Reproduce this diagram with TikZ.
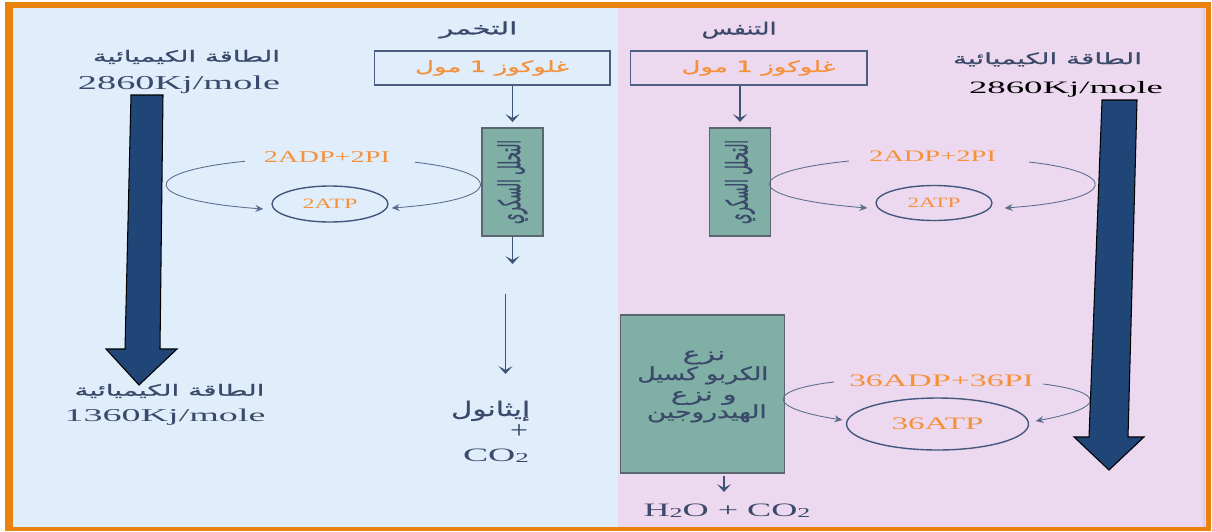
\documentclass[tikz,border=0pt]{standalone}
\usepackage{fontspec}
\usepackage{graphicx}
\setmainfont{Liberation Serif}
\newfontfamily\arabicfont[Script=Arabic,FakeBold=0.7]{DejaVu Sans}
\TeXXeTstate=1
\usetikzlibrary{arrows.meta,shapes.geometric,calc}
\newdimen\px \px=0.02cm
\newcommand\sw[2]{\resizebox{#1\px}{\height}{#2}}
\newcommand\AR[1]{{\arabicfont\beginR #1\endR}}
\newcommand\setfs[1]{\fontsize{#1}{#1}\selectfont}
\newcommand\subtwo{\raisebox{-0.06em}{\scalebox{0.72}{2}}}
\definecolor{bluebg}{HTML}{E0EEFC}
\definecolor{pinkbg}{HTML}{EDD9EF}
\definecolor{pinkedge}{HTML}{D9CCEA}
\definecolor{orangeframe}{HTML}{E9830E}
\definecolor{darktext}{HTML}{3B4A6A}
\definecolor{orangetxt}{HTML}{F5913A}
\definecolor{boxline}{HTML}{4E5E80}
\definecolor{grnfill}{HTML}{80AFA6}
\definecolor{grnline}{HTML}{5A6670}
\definecolor{ellline}{HTML}{44587E}
\definecolor{curveline}{HTML}{5B6E90}
\definecolor{arrline}{HTML}{3F5479}
\definecolor{bigblue}{HTML}{1F4677}
\begin{document}
\begin{tikzpicture}[x=0.02cm,y=-0.02cm,
  lbl/.style={inner sep=0pt, outer sep=0pt, anchor=base, text=darktext},
  otxt/.style={lbl, text=orangetxt},
  gbox/.style={draw=boxline, line width=0.6pt, minimum height=0.68cm, inner sep=0pt, text=orangetxt},
  grn/.style={draw=grnline, fill=grnfill, line width=0.8pt, inner sep=0pt, text=darktext},
  ell/.style={ellipse, draw=ellline, line width=0.8pt, inner sep=0pt, text=orangetxt},
  arr/.style={draw=arrline, line width=0.7pt, -{Stealth[length=4.5pt,width=8pt,inset=2.2pt]}},
  carr/.style={draw=curveline, line width=0.5pt, -{Stealth[length=4.5pt,width=4pt,inset=1.5pt]}},
  bigarrow/.style={fill=bigblue, draw=black, line width=0.6pt, line join=miter}
]
\useasboundingbox (0,0) rectangle (1212,531);
\fill[white] (0,0) rectangle (1212,531);
% frame and panels
\fill[orangeframe] (5,2) rectangle (1211,531);
\fill[bluebg] (13,7.5) rectangle (618,526.5);
\fill[pinkbg] (618,7.5) rectangle (1206,526.5);
\draw[pinkedge, line width=0.8pt] (1204,7.5) -- (1204,526.5);

% ---------- left panel (fermentation) ----------
\node[lbl] (titleL) at (478.3,34.3) {\setfs{9.6}\sw{78}{\AR{التخمر}}};
\node[gbox, minimum width=4.72cm] (glucL) at (492,68) {\setfs{8.8}\sw{154}{\AR{غلوكوز 1 مول}}};
\node[grn, minimum width=1.22cm, minimum height=2.16cm] (glyL) at (512.5,182)
  {\rotatebox{90}{\setfs{9}\resizebox{84\px}{1.9\height}{\AR{التحلل السكري}}}};
\draw[arr, shorten >=3pt] (glucL.south -| glyL.north) -- (glyL.north);
\coordinate (gl1) at (512.5,264);
\draw[arr] (glyL.south) -- (gl1);
\coordinate (e1) at (505.5,294);
\coordinate (e2) at (505.5,374);
\draw[arr] (e1) -- (e2);
\node[lbl] (eth) at (490.5,416) {\setfs{11.5}\sw{79}{\AR{إيثانول}}};
\node[lbl] (plusL) at (519,438) {\setfs{14}\sw{18}{+}};
\node[lbl] (co2L) at (496,461.7) {\setfs{10.8}\sw{66}{CO\subtwo}};

\node[otxt] (adpL) at (327,162.7) {\setfs{9.4}\sw{126}{2ADP+2PI}};
\node[ell, minimum width=2.32cm, minimum height=0.72cm] (atpL) at (330,204) {\setfs{8.1}\sw{55}{2ATP}};
\draw[carr] ([shift={(-19,4)}]adpL.west) .. controls +(-109,11) and +(-124,-9) .. ([shift={(-8,5)}]atpL.west);
\draw[carr] ([shift={(25,5)}]adpL.east) .. controls +(90,10) and +(114,-8) .. ([shift={(3,4)}]atpL.east);

% big arrow left
\draw[bigarrow] (131,95) -- (163,95) -- (160,349) -- (177,349) -- (139,385) -- (106,349) -- (125,349) -- cycle;
\node[lbl] (chemTL) at (186.5,61.7) {\setfs{8.8}\sw{187}{\AR{الطاقة الكيميائية}}};
\node[lbl] (enTL) at (179,89.3) {\setfs{11.2}\sw{202}{2860Kj/mole}};
\node[lbl] (chemBL) at (169.5,395.7) {\setfs{8.8}\sw{190}{\AR{الطاقة الكيميائية}}};
\node[lbl] (enBL) at (165,421.7) {\setfs{10.3}\sw{201}{1360Kj/mole}};

% ---------- right panel (respiration) ----------
\node[lbl] (titleR) at (739,34.5) {\setfs{9.6}\sw{75}{\AR{التنفس}}};
\node[gbox, minimum width=4.74cm] (glucR) at (748.5,68) {\setfs{8.8}\hspace*{20\px}\sw{154}{\AR{غلوكوز 1 مول}}};
\node[grn, minimum width=1.23cm, minimum height=2.16cm] (glyR) at (740,182)
  {\rotatebox{90}{\setfs{9}\resizebox{84\px}{1.9\height}{\AR{التحلل السكري}}}};
\draw[arr, shorten >=3pt] (glucR.south -| glyR.north) -- (glyR.north);

\node[otxt] (adpR) at (932.5,161.3) {\setfs{9.1}\sw{127}{2ADP+2PI}};
\node[ell, minimum width=2.32cm, minimum height=0.70cm] (atpR) at (934,203) {\setfs{8.1}\sw{53}{2ATP}};
\draw[carr] ([shift={(-20,5)}]adpR.west) .. controls +(-109,11) and +(-126,-10) .. ([shift={(-8,5)}]atpR.west);
\draw[carr] ([shift={(33,6)}]adpR.east) .. controls +(91,10) and +(116,-8) .. ([shift={(12,5)}]atpR.east);

\node[grn, minimum width=3.28cm, minimum height=3.16cm] (krebs) at (702.5,394) {};
\node[lbl] (k1) at (704,360) {\setfs{10.3}\sw{43}{\AR{نزع}}};
\node[lbl] (k2) at (702.8,380) {\setfs{10.3}\sw{131}{\AR{الكربو كسيل}}};
\node[lbl] (k3) at (703.7,400.5) {\setfs{10.3}\sw{66}{\AR{و نزع}}};
\node[lbl] (k4) at (706.8,418) {\setfs{10.3}\sw{120}{\AR{الهيدروجين}}};
\coordinate (h1) at (724,476);
\coordinate (h2) at (724,492);
\draw[arr] (h1) -- (h2);
\node[lbl] (h2o) at (727,516.3) {\setfs{10.8}\sw{167}{H\subtwo O + CO\subtwo}};

\node[otxt] (adpB) at (941.5,386.7) {\setfs{10}\sw{185}{36ADP+36PI}};
\node[ell, minimum width=3.64cm, minimum height=1.04cm] (atpB) at (937.5,424) {\setfs{10}\sw{92}{36ATP}};
\draw[carr] ([shift={(-15,1)}]adpB.west) .. controls +(-68,8) and +(-77,-12) .. ([shift={(-3.5,-4)}]atpB.west);
\draw[carr] ([shift={(9,3)}]adpB.east) .. controls +(63,8) and +(71,-13) .. ([shift={(6.5,-3)}]atpB.east);

% big arrow right
\draw[bigarrow] (1102,100) -- (1137,100) -- (1128,437) -- (1144,437) -- (1109,470) -- (1074,437) -- (1089,437) -- cycle;
\node[lbl] (chemTR) at (1047.5,64) {\setfs{8.8}\sw{189}{\AR{الطاقة الكيميائية}}};
\node[lbl, text=black] (enTR) at (1066,93.3) {\setfs{9.9}\sw{194}{2860Kj/mole}};
\end{tikzpicture}
\end{document}
